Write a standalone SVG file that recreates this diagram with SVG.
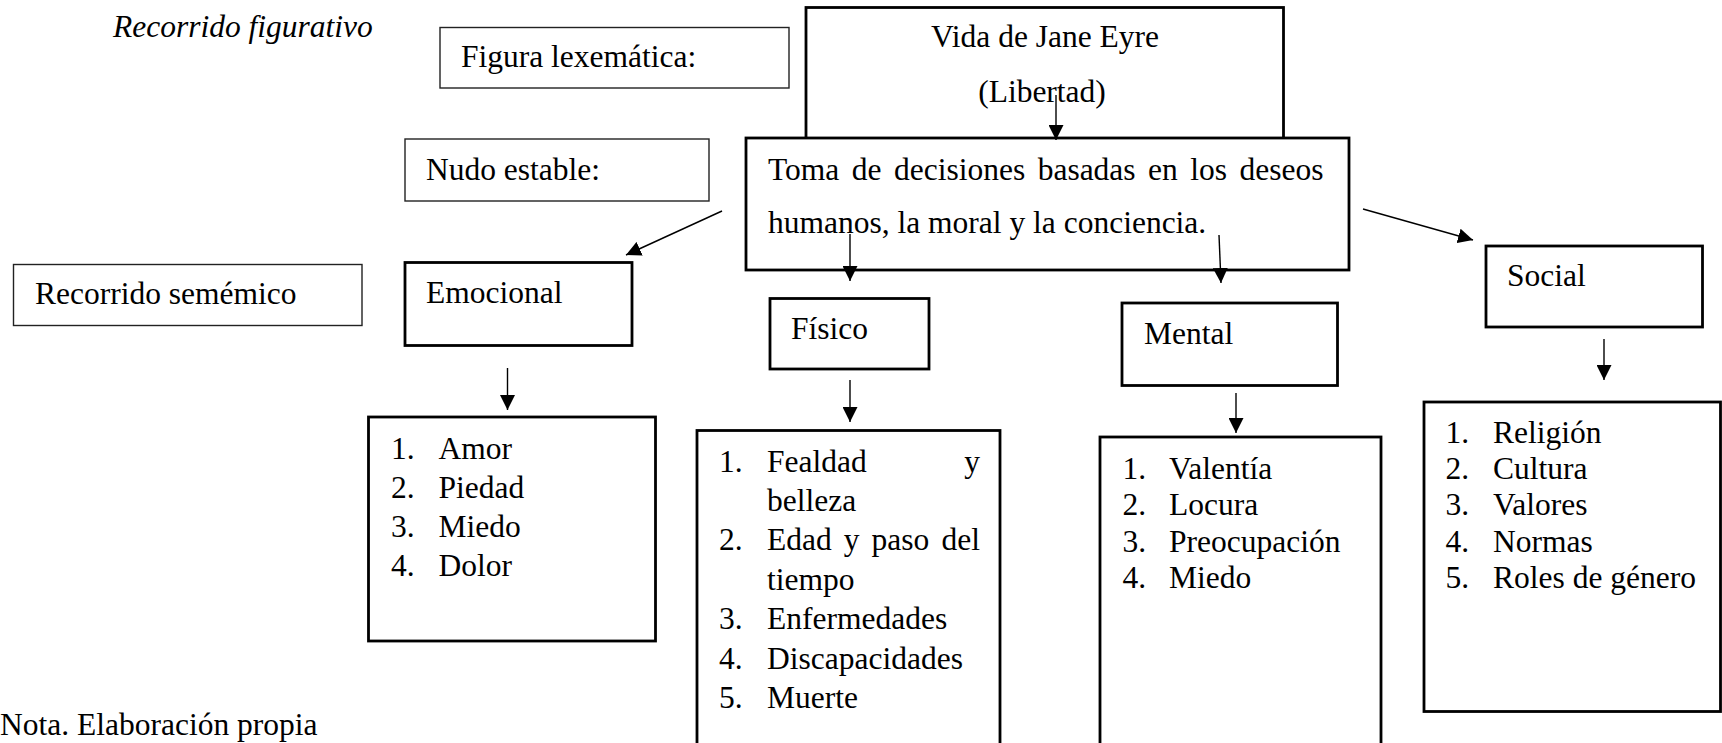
<svg xmlns="http://www.w3.org/2000/svg" width="1722" height="743" viewBox="0 0 1722 743">
<style>
text{font-family:"Liberation Serif","Times New Roman",serif;font-size:31.5px;fill:#000}
.it{font-style:italic}
.thin{fill:#fff;stroke:#222;stroke-width:1.4}
.thick{fill:#fff;stroke:#000;stroke-width:2.8}
.c line{stroke:#000;stroke-width:1.4;marker-end:url(#ah)}
</style>
<defs>
<marker id="ah" markerUnits="userSpaceOnUse" markerWidth="15" markerHeight="15" refX="14" refY="7" orient="auto" viewBox="0 0 14 14">
<path d="M0,0 L14,7 L0,14 z" fill="#000"/>
</marker>
</defs>
<rect width="1722" height="743" fill="#fff"/>
<g id="title"><text class="it" x="113" y="37">Recorrido figurativo</text></g>
<g id="figura-lexematica"><rect class="thin" x="440" y="27.5" width="349" height="60.5"/><text x="461" y="67">Figura lexemática:</text></g>
<g id="vida"><rect class="thick" x="806" y="7.5" width="477.5" height="131"/><text x="1045" y="47" text-anchor="middle">Vida de Jane Eyre</text><text x="1042" y="102" text-anchor="middle">(Libertad)</text></g>
<g id="nudo-estable"><rect class="thin" x="405" y="139" width="304" height="62"/><text x="426" y="180">Nudo estable:</text></g>
<g id="toma"><rect class="thick" x="746" y="138" width="603" height="132"/><text x="768" y="180" word-spacing="4.6">Toma de decisiones basadas en los deseos</text><text x="768" y="233">humanos, la moral y la conciencia.</text></g>
<g id="recorrido-sememico"><rect class="thin" x="13.5" y="264.5" width="348.5" height="61"/><text x="35" y="304">Recorrido semémico</text></g>
<g id="emocional"><rect class="thick" x="405" y="262.5" width="227" height="83"/><text x="426" y="303">Emocional</text></g>
<g id="fisico"><rect class="thick" x="770" y="298.5" width="159" height="70.5"/><text x="791" y="339">Físico</text></g>
<g id="mental"><rect class="thick" x="1122" y="303" width="215.5" height="82.5"/><text x="1144" y="344">Mental</text></g>
<g id="social"><rect class="thick" x="1486" y="246" width="216.5" height="81"/><text x="1507" y="286">Social</text></g>
<g id="emocional-lista"><rect class="thick" x="368.5" y="417" width="287" height="224"/>
<text x="391" y="459">1.</text><text x="438.5" y="459">Amor</text>
<text x="391" y="498">2.</text><text x="438.5" y="498">Piedad</text>
<text x="391" y="537">3.</text><text x="438.5" y="537">Miedo</text>
<text x="391" y="576">4.</text><text x="438.5" y="576">Dolor</text></g>
<g id="fisico-lista"><rect class="thick" x="697" y="430.5" width="303" height="340"/>
<text x="719" y="472">1.</text><text x="767" y="472">Fealdad</text><text x="980" y="472" text-anchor="end">y</text>
<text x="767" y="511">belleza</text>
<text x="719" y="550">2.</text><text x="767" y="550" word-spacing="4.2">Edad y paso del</text>
<text x="767" y="590">tiempo</text>
<text x="719" y="629">3.</text><text x="767" y="629">Enfermedades</text>
<text x="719" y="668.5">4.</text><text x="767" y="668.5">Discapacidades</text>
<text x="719" y="708">5.</text><text x="767" y="708">Muerte</text></g>
<g id="mental-lista"><rect class="thick" x="1100" y="437" width="281" height="330"/>
<text x="1122.5" y="479">1.</text><text x="1169" y="479">Valentía</text>
<text x="1122.5" y="515">2.</text><text x="1169" y="515">Locura</text>
<text x="1122.5" y="552">3.</text><text x="1169" y="552">Preocupación</text>
<text x="1122.5" y="588">4.</text><text x="1169" y="588">Miedo</text></g>
<g id="social-lista"><rect class="thick" x="1424" y="402" width="296.5" height="309.5"/>
<text x="1445.5" y="443">1.</text><text x="1493" y="443">Religión</text>
<text x="1445.5" y="479">2.</text><text x="1493" y="479">Cultura</text>
<text x="1445.5" y="515">3.</text><text x="1493" y="515">Valores</text>
<text x="1445.5" y="552">4.</text><text x="1493" y="552">Normas</text>
<text x="1445.5" y="588">5.</text><text x="1493" y="588">Roles de género</text></g>
<g id="nota"><text x="0" y="735">Nota. Elaboración propia</text></g>
<g id="connectors" class="c">
<line x1="1056" y1="95" x2="1056" y2="140"/>
<line x1="722" y1="211" x2="626" y2="255"/>
<line x1="1363" y1="209" x2="1473" y2="240"/>
<line x1="850" y1="234" x2="850" y2="281"/>
<line x1="1219" y1="235" x2="1221" y2="283"/>
<line x1="507.5" y1="368" x2="507.5" y2="410"/>
<line x1="850" y1="380" x2="850" y2="422"/>
<line x1="1236" y1="393" x2="1236" y2="433"/>
<line x1="1604" y1="339" x2="1604" y2="380"/>
</g>
</svg>
